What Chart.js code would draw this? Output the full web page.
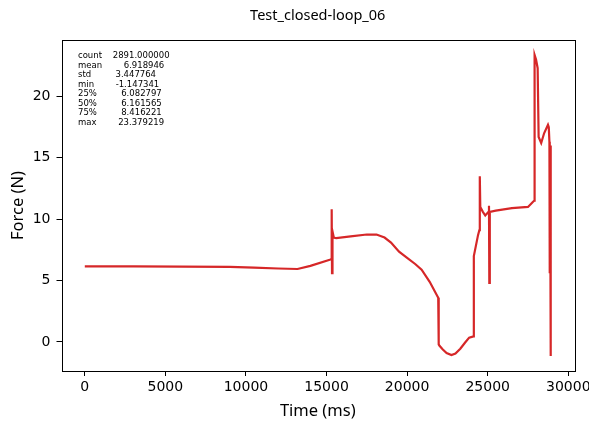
<!DOCTYPE html>
<html>
<head>
<meta charset="utf-8">
<script src="https://cdn.jsdelivr.net/npm/chart.js@4"></script>
<style>
  html, body { margin: 0; padding: 0; background: #ffffff; }
  #wrap { width: 589px; height: 425px; }
</style>
</head>
<body>
<div id="wrap"><canvas id="myChart" width="589" height="425"></canvas></div>
<script>
// data
const timeMs = [0, 3000, 6000, 9000, 10500, 12000, 13200, 14000, 15200, 15300,
  15320, 15340, 15370, 15450, 15600, 16500, 17500, 18100, 18600, 19000,
  19500, 20000, 20500, 20900, 21400, 21930, 21960, 22000, 22200, 22450,
  22750, 23000, 23300, 23600, 23850, 24120, 24140, 24400, 24480, 24510,
  24540, 24700, 24850, 25050, 25080, 25100, 25130, 25500, 26500, 27500,
  27800, 27880, 27910, 28000, 28100, 28160, 28320, 28500, 28740, 28790,
  28830, 28850, 28870, 28910];
const forceN = [6.15, 6.15, 6.14, 6.12, 6.05, 5.98, 5.94, 6.2, 6.7, 6.75,
  10.8, 5.6, 9.0, 8.5, 8.45, 8.6, 8.75, 8.75, 8.5, 8.1,
  7.35, 6.85, 6.35, 5.88, 4.9, 3.6, -0.2, -0.3, -0.6, -0.9,
  -1.07, -0.95, -0.55, -0.05, 0.35, 0.45, 7.0, 8.7, 9.1, 13.5,
  11.0, 10.6, 10.3, 10.6, 11.1, 4.8, 10.6, 10.7, 10.9, 11.0,
  11.4, 11.5, 23.38, 23.0, 22.3, 16.7, 16.2, 17.0, 17.7, 17.5,
  16.3, 5.6, 16.0, -1.15];

const xTicks = [0, 5000, 10000, 15000, 20000, 25000, 30000];
const yTicks = [0, 5, 10, 15, 20];

const statLines = [
  'count    2891.000000',
  'mean        6.918946',
  'std         3.447764',
  'min        -1.147341',
  '25%         6.082797',
  '50%         6.161565',
  '75%         8.416221',
  'max        23.379219'
];

const points = timeMs.map((t, i) => ({ x: t, y: forceN[i] }));

// frame, title and the describe() text box
const extras = {
  id: 'extras',
  afterDraw(chart) {
    const ctx = chart.ctx;
    const a = chart.chartArea;
    ctx.save();
    ctx.strokeStyle = '#000000';
    ctx.lineWidth = 1;
    ctx.strokeRect(Math.round(a.left) + 0.5, Math.round(a.top) + 0.5,
      Math.round(a.right - a.left), Math.round(a.bottom - a.top));

    ctx.fillStyle = '#000000';
    ctx.font = '14.5px "Noto Sans"';
    ctx.textAlign = 'center';
    ctx.textBaseline = 'middle';
    ctx.fillText('Test_closed-loop_06', (a.left + a.right) / 2, 16);

    ctx.font = '8.5px "DejaVu Sans"';
    ctx.textAlign = 'left';
    statLines.forEach((s, i) => {
      ctx.fillText(s, 78, 56 + i * 9.5);
    });
    ctx.restore();
  }
};

const config = {
  type: 'line',
  data: {
    datasets: [{
      label: 'Force',
      data: points,
      borderColor: '#d62728',
      borderWidth: 2.2,
      pointRadius: 0,
      tension: 0,
      fill: false
    }]
  },
  options: {
    responsive: false,
    animation: false,
    layout: { padding: { top: 40, right: 15, left: 0, bottom: 0 } },
    plugins: {
      legend: { display: false },
      tooltip: { enabled: false }
    },
    scales: {
      x: {
        type: 'linear',
        min: -1445,
        max: 30355,
        afterBuildTicks: function(scale) {
          scale.ticks = xTicks.map(v => ({ value: v }));
        },
        afterFit: function(scale) {
          scale.height = 54;
          scale.paddingLeft = 0;
          scale.paddingRight = 0;
        },
        grid: { drawOnChartArea: false, drawTicks: true, tickLength: 5, color: '#000000' },
        border: { display: false },
        ticks: {
          color: '#000000',
          padding: 3,
          maxRotation: 0,
          autoSkip: false,
          font: { family: 'DejaVu Sans', size: 14 },
          callback: function(value) { return String(value); }
        },
        title: {
          display: true,
          text: 'Time (ms)',
          color: '#000000',
          font: { family: 'Noto Sans', size: 16.5 },
          padding: { top: 4, bottom: 4 }
        }
      },
      y: {
        type: 'linear',
        min: -2.37,
        max: 24.6,
        afterBuildTicks: function(scale) {
          scale.ticks = yTicks.map(v => ({ value: v }));
        },
        afterFit: function(scale) {
          scale.width = 61.5;
        },
        grid: { drawOnChartArea: false, drawTicks: true, tickLength: 5, color: '#000000' },
        border: { display: false },
        ticks: {
          color: '#000000',
          padding: 6,
          font: { family: 'DejaVu Sans', size: 14 },
          callback: function(value) { return String(value); }
        },
        title: {
          display: true,
          text: 'Force (N)',
          color: '#000000',
          font: { family: 'Noto Sans', size: 16.5 },
          padding: { top: 8, bottom: 0 }
        }
      }
    }
  },
  plugins: [extras]
};

const myChart = new Chart(document.getElementById('myChart'), config);
</script>
</body>
</html>
